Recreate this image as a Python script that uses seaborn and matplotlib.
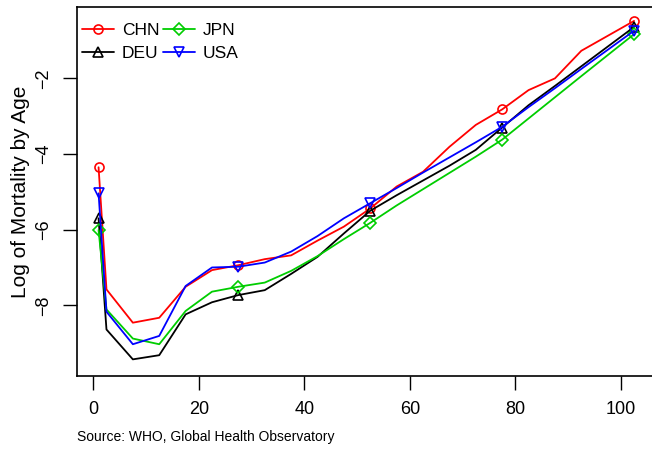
import matplotlib
matplotlib.use("Agg")
import matplotlib.pyplot as plt
import seaborn as sns
import pandas as pd

# Age-group midpoints (years); first point is infants
ages = [1, 2.5, 7.5, 12.5, 17.5, 22.5, 27.5, 32.5, 37.5, 42.5, 47.5,
        52.5, 57.5, 62.5, 67.5, 72.5, 77.5, 82.5, 87.5, 92.5, 102.5]

# Log mortality rate by age group
chn = [-4.35, -7.58, -8.46, -8.33, -7.51, -7.07, -6.94, -6.78, -6.68, -6.29, -5.92,
       -5.44, -4.86, -4.47, -3.81, -3.23, -2.82, -2.31, -2.00, -1.27, -0.48]
deu = [-5.70, -8.64, -9.43, -9.32, -8.24, -7.92, -7.73, -7.60, -7.17, -6.72, -6.10,
       -5.50, -5.09, -4.70, -4.31, -3.89, -3.30, -2.71, -2.20, -1.68, -0.64]
jpn = [-6.01, -8.11, -8.88, -9.03, -8.15, -7.64, -7.51, -7.40, -7.09, -6.70, -6.25,
       -5.82, -5.36, -4.93, -4.50, -4.07, -3.62, -3.06, -2.50, -1.94, -0.83]
usa = [-5.04, -8.17, -9.03, -8.81, -7.49, -7.00, -6.98, -6.87, -6.58, -6.17, -5.70,
       -5.30, -4.90, -4.49, -4.09, -3.69, -3.28, -2.76, -2.26, -1.75, -0.74]

countries = ["CHN", "DEU", "JPN", "USA"]
series = [chn, deu, jpn, usa]
colors = ["#FF0000", "#000000", "#00CD00", "#0000FF"]
markers = ["o", "^", "D", "v"]
marker_sizes = [6.5, 7.5, 6.0, 7.5]
marker_idx = [0, 6, 11, 16, 20]

x_ticks = [0, 20, 40, 60, 80, 100]
y_ticks = [-8, -6, -4, -2]

sns.set_theme(style="white")
plt.rcParams["font.family"] = ["Liberation Sans", "DejaVu Sans"]
plt.rcParams["text.color"] = "black"
plt.rcParams["axes.labelcolor"] = "black"

fig = plt.figure(figsize=(6.52, 4.53), dpi=100)
ax = fig.add_axes([77.3 / 652, 1 - 376 / 453, 1 - 77.3 / 652, (376 - 7.3) / 453])

df = pd.DataFrame({"age": ages, **dict(zip(countries, series))})
for name, col, mk, ms in zip(countries, colors, markers, marker_sizes):
    sns.lineplot(data=df, x="age", y=name, ax=ax, color=col, lw=1.3,
                 marker=mk, markevery=marker_idx, markersize=ms,
                 markerfacecolor="none", markeredgecolor=col, markeredgewidth=1.2,
                 label=name)

ax.set_xlim(-3.03, 105.9)
ax.set_ylim(-9.87, -0.12)
ax.set_xticks(x_ticks)
ax.set_yticks(y_ticks)
ax.set_yticklabels([f"\u2212{abs(v)}" for v in y_ticks], rotation=90, va="center")
ax.tick_params(axis="both", direction="out", length=10, width=1, colors="black",
               labelsize=13, pad=8, bottom=True, left=True)
ax.set_xlabel("")
ax.set_ylabel("Log of Mortality by Age", fontsize=15, labelpad=4, color="black")

for side in ["left", "bottom", "top"]:
    ax.spines[side].set_color("black")
    ax.spines[side].set_linewidth(1.2)
ax.spines["right"].set_visible(False)

leg = ax.legend(loc="upper left", bbox_to_anchor=(0.0077, 0.957), ncol=2, frameon=False,
                fontsize=12.5, handlelength=1.85, handletextpad=0.45, columnspacing=0.2,
                labelspacing=0.45, borderpad=0, borderaxespad=0)
for t in leg.get_texts():
    t.set_color("black")

fig.text(77 / 652, 1 - 437 / 453, "Source: WHO, Global Health Observatory",
         fontsize=10, ha="left", va="center", color="black")

fig.savefig("out.png", dpi=100)
